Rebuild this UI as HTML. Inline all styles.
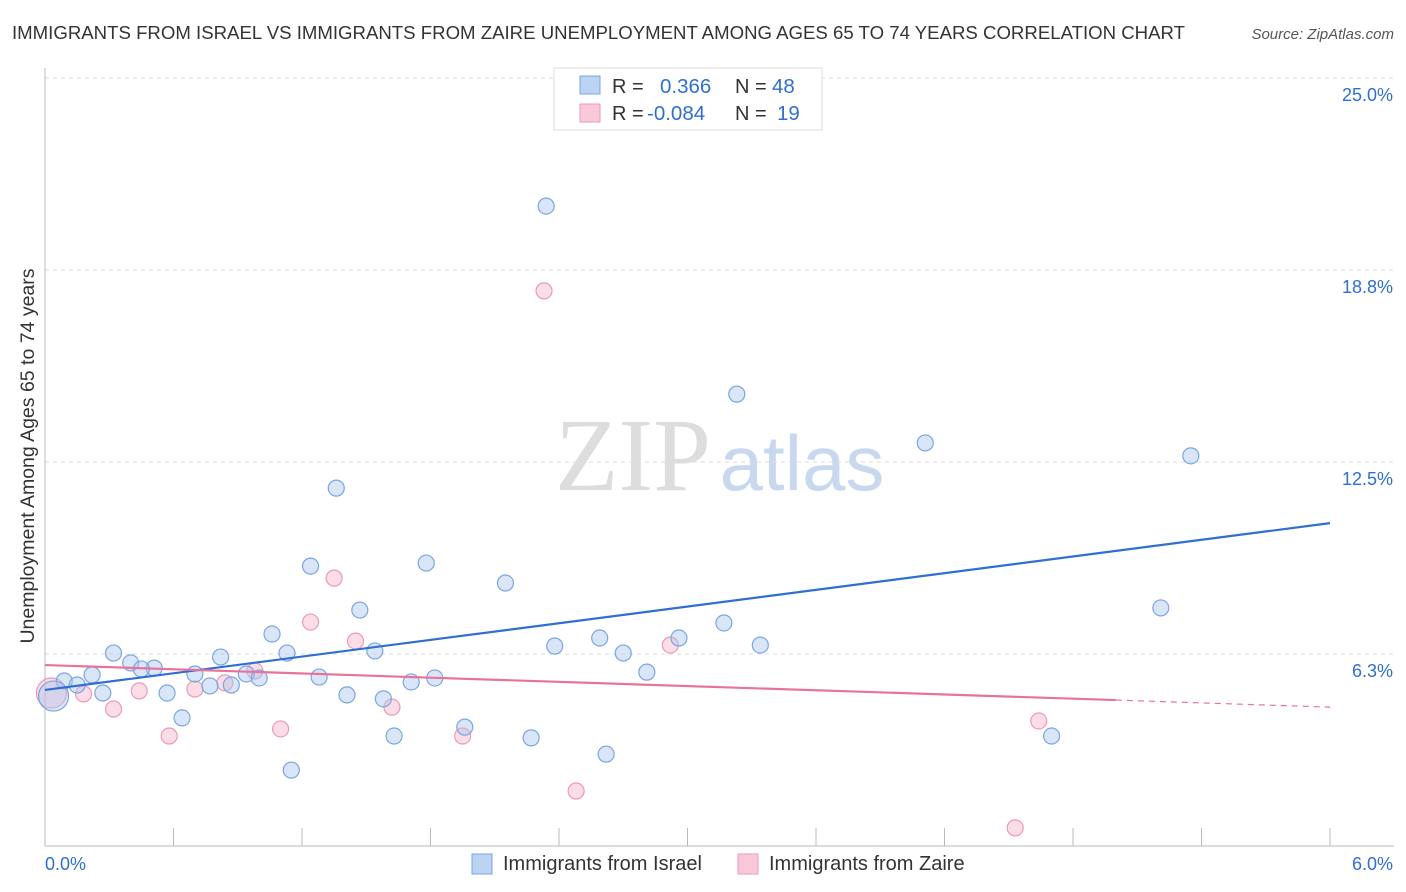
<!DOCTYPE html>
<html><head><meta charset="utf-8"><style>
body{margin:0;background:#fff;font-family:"Liberation Sans",sans-serif;}
svg{display:block}
</style></head><body>
<svg width="1406" height="892" xmlns="http://www.w3.org/2000/svg">
<text x="12" y="39" font-size="18" textLength="1173" lengthAdjust="spacingAndGlyphs" fill="#333">IMMIGRANTS FROM ISRAEL VS IMMIGRANTS FROM ZAIRE UNEMPLOYMENT AMONG AGES 65 TO 74 YEARS CORRELATION CHART</text>
<text x="1394" y="39" font-size="15" fill="#555" font-style="italic" text-anchor="end">Source: ZipAtlas.com</text>
<g><text x="633" y="490" font-size="104" font-family="Liberation Serif,serif" fill="#ddd" text-anchor="middle">ZIP</text><text x="802" y="490" font-size="78" fill="#c8d8ee" text-anchor="middle">atlas</text></g>
<g id="grid"></g>
<g id="axes"></g>
<g id="marks"></g>
<g>
<rect x="554" y="68" width="268" height="62" fill="#fff" stroke="#ddd"/>
<rect x="580" y="76" width="20" height="18" fill="#bcd3f3" stroke="#7aa6e0"/>
<rect x="580" y="104" width="20" height="18" fill="#f9c9d8" stroke="#ec9ab5"/>
<text x="612" y="93" font-size="20" fill="#333">R =</text><text x="660" y="93" font-size="20.5" fill="#2f6fd0">0.366</text>
<text x="735" y="93" font-size="20" fill="#333">N =</text><text x="772" y="93" font-size="20.5" fill="#2f6fd0">48</text>
<text x="612" y="120" font-size="20" fill="#333">R =</text><text x="647" y="120" font-size="20.5" fill="#2f6fd0">-0.084</text>
<text x="735" y="120" font-size="20" fill="#333">N =</text><text x="777" y="120" font-size="20.5" fill="#2f6fd0">19</text>
</g>
<g>
<rect x="472" y="854" width="20" height="20" fill="#bcd3f3" stroke="#7aa6e0"/>
<text x="503" y="870" font-size="20" fill="#333">Immigrants from Israel</text>
<rect x="738" y="854" width="20" height="20" fill="#f9c9d8" stroke="#ec9ab5"/>
<text x="769" y="870" font-size="20" fill="#333">Immigrants from Zaire</text>
</g>
<text transform="translate(34,456) rotate(-90)" font-size="19.5" fill="#333" text-anchor="middle">Unemployment Among Ages 65 to 74 years</text>
</svg>
<script>
const yTicks=[6.25,12.5,18.75,25];
const yTickLabels=["6.3%","12.5%","18.8%","25.0%"];
const xTicks=[0,0.6,1.2,1.8,2.4,3.0,3.6,4.2,4.8,5.4,6.0];
const israelX=[2.34,3.23,4.11,5.35,1.36,1.24,1.78,2.15,1.47,5.21,1.06,3.17,2.59,2.96,2.38,3.34,0.32,1.13,1.54,2.70,0.82,0.40,0.51,0.45,2.81,0.22,0.70,0.94,1.00,1.28,0.09,0.15,1.82,1.71,0.77,0.87,0.27,0.57,1.41,1.58,0.04,0.64,1.96,1.63,2.27,4.70,2.62,1.15];
const israelY=[20.83,14.71,13.12,12.70,11.65,9.11,9.21,8.56,7.68,7.75,6.90,7.26,6.77,6.77,6.51,6.54,6.28,6.28,6.35,6.28,6.15,5.96,5.79,5.76,5.66,5.57,5.60,5.60,5.47,5.50,5.37,5.24,5.47,5.34,5.21,5.24,4.98,4.98,4.92,4.79,4.88,4.17,3.87,3.58,3.52,3.58,2.99,2.47];
const zaireX=[2.33,1.35,1.24,1.45,2.92,0.98,0.84,0.70,0.44,0.18,0.03,0.32,1.62,1.10,0.58,1.95,4.64,2.48,4.53];
const zaireY=[18.07,8.72,7.29,6.67,6.54,5.70,5.31,5.11,5.05,4.95,4.98,4.46,4.52,3.81,3.58,3.58,4.07,1.79,0.59];
const israelTrend=[5.08,10.51];
const zaireTrend=[5.89,4.75,4.52];
const zaireTrendX=[0,5.0,6.0];
const NS="http://www.w3.org/2000/svg";
const X=v=>45+v*214.17, Y=v=>846-v*30.72;
function mk(t,a,p){const e=document.createElementNS(NS,t);for(const k in a)e.setAttribute(k,a[k]);document.getElementById(p).appendChild(e);return e;}
yTicks.forEach((t,i)=>{
 const l=mk('line',{x1:45,x2:1394,y1:Y(t),y2:Y(t),stroke:'#ddd','stroke-dasharray':'4,4'},'grid');
 
 
 const tx=mk('text',{x:1393,y:Y(t)+23,'font-size':18,fill:'#2f6fd0','text-anchor':'end'},'grid');
 tx.textContent=yTickLabels[i];
 
 
});
const ax=mk('line',{x1:45,x2:1394,y1:846,y2:846,stroke:'#bbb'},'axes');


const ay=mk('line',{x1:45,x2:45,y1:68,y2:846,stroke:'#bbb'},'axes');


xTicks.forEach(t=>{
 const l=mk('line',{x1:X(t),x2:X(t),y1:828,y2:846,stroke:'#bbb'},'axes');
 
 
});
const xl0=mk('text',{x:45,y:870,'font-size':18,fill:'#2f6fd0'},'axes');xl0.textContent='0.0%';


const xl1=mk('text',{x:1393,y:870,'font-size':18,fill:'#2f6fd0','text-anchor':'end'},'axes');xl1.textContent='6.0%';


zaireX.forEach((x,i)=>{
 const c=mk('circle',{cx:X(x),cy:Y(zaireY[i]),r:i==10?15:8,fill:'rgba(246,180,202,0.45)',stroke:'#eb9ab6','stroke-width':1.2},'marks');
 
 
});
israelX.forEach((x,i)=>{
 const c=mk('circle',{cx:X(x),cy:Y(israelY[i]),r:i==40?15:8,fill:'rgba(170,200,240,0.45)',stroke:'#7aa6e0','stroke-width':1.2},'marks');
 
 
});
const bt=mk('line',{x1:X(0),y1:Y(israelTrend[0]),x2:X(6),y2:Y(israelTrend[1]),stroke:'#2f6fd0','stroke-width':2.2},'marks');


const pt=mk('line',{x1:X(zaireTrendX[0]),y1:Y(zaireTrend[0]),x2:X(zaireTrendX[1]),y2:Y(zaireTrend[1]),stroke:'#e8739a','stroke-width':2.2},'marks');


const pd=mk('line',{x1:X(zaireTrendX[1]),y1:Y(zaireTrend[1]),x2:X(zaireTrendX[2]),y2:Y(zaireTrend[2]),stroke:'#e8739a','stroke-width':1.2,'stroke-dasharray':'6,5'},'marks');


</script>
</body></html>
